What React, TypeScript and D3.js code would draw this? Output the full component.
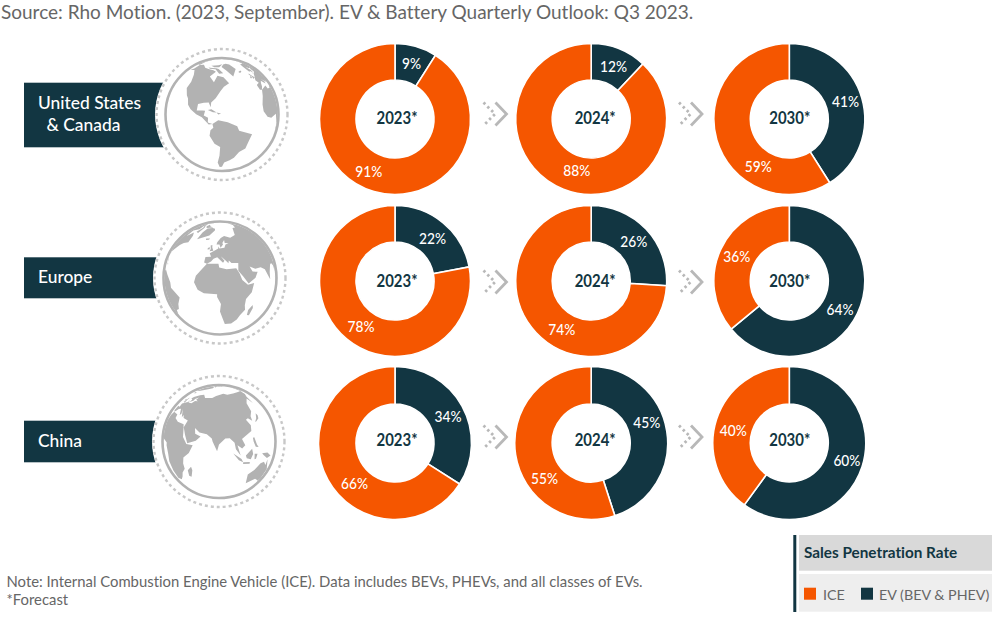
import React from "react";
import * as d3 from "d3";

const years = ["2023*", "2024*", "2030*"];
const regions = ["United States & Canada", "Europe", "China"];
const evShare = [
  [9, 12, 41],
  [22, 26, 64],
  [34, 45, 60],
];
const iceShare = [
  [91, 88, 59],
  [78, 74, 36],
  [66, 55, 40],
];
const seriesNames = ["ICE", "EV (BEV & PHEV)"];

const ORANGE = "#f55600";
const DARK = "#123642";
const GREY = "#b2b2b2";
const FONT = "Lato, sans-serif";

// rough coastlines [lon, lat], only for the decorative globes
const land: [number, number][][] = [
  [[-168,66],[-156,71],[-130,70],[-110,70],[-95,70],[-85,68],[-94,60],[-82,53],[-78,62],[-65,60],[-56,52],[-65,48],[-70,43],[-76,35],[-81,30],[-81,25],[-84,30],[-90,29],[-97,27],[-97,20],[-90,21],[-87,21],[-88,16],[-83,14],[-83,9],[-78,8],[-82,7],[-90,14],[-97,16],[-105,20],[-110,24],[-113,30],[-117,33],[-124,40],[-124,48],[-133,56],[-150,60],[-165,55],[-160,60]],
  [[-78,8],[-72,12],[-62,10],[-52,5],[-50,0],[-35,-6],[-39,-15],[-41,-22],[-48,-26],[-53,-34],[-58,-38],[-65,-42],[-68,-52],[-72,-53],[-74,-42],[-71,-30],[-70,-18],[-76,-14],[-81,-5],[-80,1],[-77,4]],
  [[-44,60],[-22,70],[-20,80],[-35,83],[-60,82],[-70,77],[-55,70]],
  [[-120,72],[-105,73],[-90,74],[-80,73],[-65,66],[-75,65],[-90,72],[-110,71]],
  [[-120,76],[-90,80],[-65,83],[-80,76],[-100,75]],
  [[-84,22],[-80,23],[-74,20],[-78,20]],
  [[-74,20],[-69,19],[-72,18]],
  [[-24,65],[-14,66],[-15,64],[-22,63]],
  [[-5,50],[1,51],[-2,55],[-3,58],[-6,57],[-4,53]],
  [[-10,52],[-6,52],[-6,55],[-9,54]],
  [[-17,15],[-16,22],[-10,30],[-5,36],[10,37],[11,33],[20,31],[32,31],[35,25],[37,18],[43,12],[51,12],[47,3],[40,-3],[39,-10],[40,-16],[35,-22],[32,-28],[26,-34],[18,-34],[15,-25],[12,-15],[13,-6],[9,2],[9,5],[-5,5],[-12,8]],
  [[49,-12],[50,-16],[47,-25],[44,-24],[44,-17]],
  [[-9,37],[-9,43],[-1,44],[-4,48],[4,52],[9,54],[8,57],[11,54],[20,55],[23,59],[30,60],[22,61],[22,65],[17,61],[18,59],[13,55],[11,59],[5,59],[6,62],[14,68],[25,71],[40,67],[60,69],[70,73],[100,77],[113,74],[140,73],[170,70],[-170,66],[177,62],[163,60],[156,51],[155,59],[140,55],[135,45],[128,40],[127,35],[122,39],[118,38],[122,31],[120,25],[110,21],[106,19],[109,12],[105,9],[100,13],[103,2],[98,9],[97,16],[92,21],[87,21],[80,15],[78,8],[73,18],[72,21],[66,25],[57,26],[50,30],[52,24],[59,22],[54,17],[44,13],[39,21],[34,28],[36,36],[27,37],[24,40],[23,37],[20,40],[13,45],[18,40],[16,38],[8,44],[3,42],[0,39],[-5,36]],
  [[131,33],[136,36],[141,41],[142,38],[140,35],[133,33]],
  [[95,5],[104,-2],[106,-6],[101,-3]],
  [[109,1],[117,7],[118,1],[115,-4],[110,-2]],
  [[106,-6],[114,-7],[114,-9],[106,-8]],
  [[120,1],[124,0],[122,-5],[120,-5]],
  [[120,18],[122,18],[124,10],[126,7],[122,8],[120,14]],
  [[131,-1],[141,-3],[150,-9],[141,-9],[134,-4]],
  [[114,-22],[122,-18],[130,-12],[136,-12],[141,-17],[143,-11],[153,-26],[150,-37],[143,-39],[136,-35],[130,-32],[116,-35]],
  [[167,-45],[173,-41],[178,-38],[174,-36],[172,-44]],
];
// make every ring wind around its small side so geoPath fills the land
const landGeo = {
  type: "MultiPolygon",
  coordinates: land.map((ring) => {
    const closed = [...ring, ring[0]];
    const poly = { type: "Polygon", coordinates: [closed] } as any;
    return [d3.geoArea(poly) > 2 * Math.PI ? [...closed].reverse() : closed];
  }),
} as any;

const colX = d3.scaleOrdinal<number, number>([0, 1, 2], [395, 591.2, 789.3]);
const rowY = d3.scalePoint<number>().domain([0, 1, 2]).range([119, 443]);
const outerR = d3.scaleOrdinal<number, number>([0, 1, 2], [75.5, 75.5, 76.5]);
const innerR = 39;
const yearShift = [2, 4, 0.5];
const yearBaseline = [5, 6.3, 3];

const evLabelOffset = [
  [[16.5, -55.7], [22.4, -52.3], [56.3, -17.3]],
  [[37.6, -42.7], [42.5, -39.3], [50.8, 28]],
  [[53, -26.3], [55.6, -21], [57.6, 17]],
];
const iceLabelOffset = [
  [[-26.3, 52.7], [-14.5, 51.7], [-31, 47]],
  [[-34, 45], [-29.4, 48], [-52.6, -24.3]],
  [[-40.5, 40.3], [-46.6, 35.3], [-56.1, -13]],
];

const globes = [
  { cx: 222, cy: 114.5, rotate: [68, -18, 0] as [number, number, number] },
  { cx: 220, cy: 278, rotate: [-12, -22, 0] as [number, number, number] },
  { cx: 219, cy: 441.5, rotate: [-80, -18, 0] as [number, number, number] },
];
const bars = [
  { y: 82.7, h: 64.6, lines: [["United States", 38, 109.3], [" & Canada", 42, 131]] },
  { y: 257.3, h: 41, lines: [["Europe", 38, 283]] },
  { y: 420.7, h: 41.6, lines: [["China", 38, 447]] },
];
const chevronX = [483.5, 679];
const chevronY = [114, 282, 437];

const pie = d3.pie<number>().sort(null);
const chevron = d3.line();

const Globe = ({ cx, cy, rotate }: (typeof globes)[number]) => {
  const projection = d3.geoOrthographic().rotate(rotate).scale(55.5).translate([cx, cy]).clipAngle(90);
  const path = d3.geoPath(projection);
  return (
    <g>
      <circle cx={cx} cy={cy} r={67} fill="#fff" stroke="none" />
      <circle cx={cx} cy={cy} r={65.5} fill="none" stroke="#c8c8c8" strokeWidth={2.4} strokeDasharray="3 3" />
      <path d={path(landGeo) ?? undefined} fill={GREY} />
      <circle cx={cx} cy={cy} r={56.5} fill="none" stroke={GREY} strokeWidth={2.6} />
    </g>
  );
};

const PctLabel = ({ pos, value }: { pos: number[]; value: number }) => (
  <text
    x={pos[0]}
    y={pos[1] + 5.6}
    textAnchor="middle"
    fontSize={15.7}
    fontWeight={500}
    fill="#fff"
    textLength={value < 10 ? 19 : 27}
    lengthAdjust="spacingAndGlyphs"
  >
    {`${value}%`}
  </text>
);

const App = () => (
  <svg
    width={1000}
    height={631}
    style={{ position: "absolute", left: 0, top: 0, fontFamily: FONT, fontVariantLigatures: "none" }}
  >
    <rect width={1000} height={631} fill="#fff" />
    <text x={1} y={19} fontSize={19} fill="#666">
      Source: Rho Motion. (2023, September). EV &amp; Battery Quarterly Outlook: Q3 2023.
    </text>

    {regions.map((region, r) => (
      <g key={region}>
        <rect x={24} y={bars[r].y} width={150} height={bars[r].h} fill={DARK} />
        {bars[r].lines.map(([line, x, y]) => (
          <text key={line as string} x={x as number} y={y as number} fontSize={17.4} fontWeight={500} fill="#fff" xmlSpace="preserve">
            {line}
          </text>
        ))}
        <Globe {...globes[r]} />
      </g>
    ))}

    {chevronY.map((y) =>
      chevronX.map((x) => (
        <g key={`${x}-${y}`} fill="none" stroke="#b8b8b8" strokeWidth={2.8}>
          <path d={chevron([[x, y - 11.5], [x + 11.5, y], [x, y + 11.5]]) ?? undefined} strokeDasharray="2.5 3" />
          <path d={chevron([[x + 12, y - 11.5], [x + 23, y], [x + 12, y + 11.5]]) ?? undefined} />
        </g>
      )),
    )}

    {regions.map((region, r) =>
      years.map((year, c) => {
        const arc = d3.arc<d3.PieArcDatum<number>>().innerRadius(innerR).outerRadius(outerR(r));
        const slices = pie([evShare[r][c], iceShare[r][c]]);
        const cx = colX(c);
        const cy = rowY(r)!;
        return (
          <g key={`${region}-${year}`} transform={`translate(${cx},${cy})`}>
            {slices.map((s, i) => (
              <path key={i} d={arc(s) ?? undefined} fill={i === 0 ? DARK : ORANGE} stroke="#fff" strokeWidth={1.6} />
            ))}
            <text
              x={yearShift[c]}
              y={yearBaseline[r]}
              textAnchor="middle"
              fontSize={16.5}
              fontWeight={700}
              fill={DARK}
              textLength={41}
              lengthAdjust="spacingAndGlyphs"
            >
              {year}
            </text>
            <PctLabel pos={evLabelOffset[r][c]} value={evShare[r][c]} />
            <PctLabel pos={iceLabelOffset[r][c]} value={iceShare[r][c]} />
          </g>
        );
      }),
    )}

    <text x={6.5} y={587} fontSize={14.85} fill="#666">
      Note: Internal Combustion Engine Vehicle (ICE). Data includes BEVs, PHEVs, and all classes of EVs.
    </text>
    <text x={6.5} y={605} fontSize={14.85} fill="#666">
      *Forecast
    </text>

    <rect x={793.3} y={535} width={3} height={77} fill={DARK} />
    <rect x={799} y={535} width={193} height={35.7} fill="#d9d9d9" />
    <rect x={799} y={574} width={193} height={37.7} fill="#eeeeee" />
    <text x={804} y={557.7} fontSize={15.3} fontWeight={700} fill={DARK}>
      Sales Penetration Rate
    </text>
    <rect x={804} y={587.7} width={12} height={12} fill={ORANGE} />
    <text x={823} y={600} fontSize={14.3} fill="#666">
      {seriesNames[0]}
    </text>
    <rect x={861} y={587.7} width={12} height={12} fill={DARK} />
    <text x={879} y={600} fontSize={14.3} fill="#666">
      {seriesNames[1]}
    </text>
  </svg>
);

export default App;
